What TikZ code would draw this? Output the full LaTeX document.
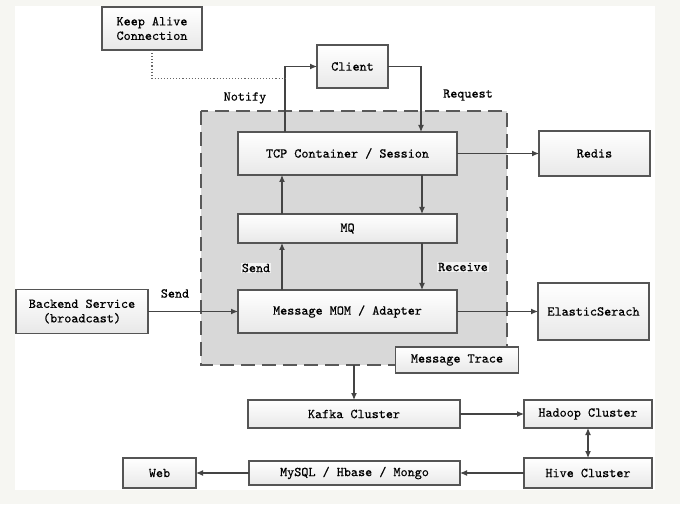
\documentclass[tikz,border=0pt]{standalone}
\usepackage{fontspec}
\setmonofont{lmmono10-regular.otf}[FakeBold=0.5]
\usepackage{tikz}
\usetikzlibrary{arrows.meta,calc,positioning,fit}
\definecolor{pagebg}{RGB}{246,246,242}
\definecolor{linegray}{RGB}{68,68,68}
\definecolor{boxline}{RGB}{85,85,85}
\definecolor{zonegray}{RGB}{216,216,216}
\newcommand{\boxfont}{\ttfamily\fontsize{13.5}{14.5}\selectfont}
\tikzstyle{bx}=[rectangle,draw=boxline,line width=1.2pt,outer sep=0pt,top color=white,bottom color=black!9,align=center,font=\boxfont,minimum height=43pt]
\tikzstyle{lnk}=[-{Latex[length=7pt,width=6pt]},line width=1.1pt,draw=linegray]
\tikzstyle{lbl}=[font=\boxfont,inner sep=1pt]
\tikzset{
	zone/.style={fill=zonegray,draw=black!65,line width=1.6pt,dash pattern=on 14pt off 7pt},
	keepline/.style={dotted,line width=1.1pt,draw=black!60}
}
\pgfdeclarelayer{back}
\pgfsetlayers{back,main}

\begin{document}
\begin{tikzpicture}[x=1pt,y=1pt]
    \useasboundingbox (0,0) rectangle (680,504);
    \node (tcp) [bx,minimum width=219pt] at (347.5,350.5) {TCP Container / Session};
    \node (mq) [bx,minimum width=219pt,minimum height=29pt,below=39pt of tcp] {MQ};
    \node (mom) [bx,minimum width=219pt,below=47pt of mq] {Message MOM / Adapter};
    \node (client) [bx,minimum width=71pt,above=44pt of tcp,xshift=5pt] {Client};
    \node (keep) [bx,minimum width=100pt,left=115pt of client,yshift=38pt] {Keep Alive\\Connection};
    \node (redis) [bx,minimum width=111pt,minimum height=45pt,right=82pt of tcp] {Redis};
    \node (elastic) [bx,minimum width=111pt,minimum height=57pt,right=81pt of mom] {ElasticSerach};
    \node (backend) [bx,minimum width=132pt,minimum height=44pt,left=90pt of mom] {Backend Service\\(broadcast)};
    \node (trace) [bx,minimum width=123pt,minimum height=26pt,below=14pt of mom.south east] {Message Trace};

    % region round the session part
    \coordinate (z1) at ($(tcp.north west)+(-37,21)$);
    \coordinate (z2) at ($(mom.south east)+(50,-32)$);
    \coordinate (zc) at ($(z1)!0.5!(z2)$);
\begin{pgfonlayer}{back}
    \fill[pagebg] (0,0) rectangle (680,504);
    \fill[white] (15,14) rectangle (655,498);
    \draw[zone] (z1) rectangle (z2);
\end{pgfonlayer}

    \node (kafka) [bx,minimum width=212pt,minimum height=28pt,below=35pt of zc |- z2] {Kafka Cluster};
    \node (hadoop) [bx,minimum width=128pt,minimum height=28pt,right=64pt of kafka] {Hadoop Cluster};
    \node (hive) [bx,minimum width=128pt,minimum height=30pt,below=30pt of hadoop] {Hive Cluster};
    \node (mysql) [bx,minimum width=211pt,minimum height=24pt,left=64pt of hive] {MySQL / Hbase / Mongo};
    \node (web) [bx,minimum width=73pt,minimum height=30pt,left=53pt of mysql] {Web};

    % notify / request loop
    \coordinate (nfy) at ($(tcp.north west)+(47,0)$);
    \coordinate (rq) at ($(tcp.north east)+(-36,0)$);
    \coordinate (kj) at ($(client.west -| nfy)+(0,-12)$);
    \draw[lnk] (nfy) |- (client.west);
    \draw[lnk] (client.east) -| (rq);
    \draw[keepline] (keep.south) |- (kj);
    \node (lnotify) [lbl] at ($(tcp.north west)+(7,34)$) {Notify};
    \node (lrequest) [lbl] at ($(tcp.north east)+(11,37)$) {Request};

    \draw[lnk] ($(tcp.south east)+(-35,0)$) -- ($(mq.north east)+(-35,0)$);
    \draw[lnk] ($(mq.north west)+(44,0)$) -- ($(tcp.south west)+(44,0)$);
    \draw[lnk] ($(mq.south east)+(-35,0)$) -- ($(mom.north east)+(-35,0)$);
    \draw[lnk] ($(mom.north west)+(44,0)$) -- ($(mq.south west)+(44,0)$);
    \node (lsend) [lbl,fill=white!70!zonegray] at ($(mom.north west)+(18,22)$) {Send};
    \node (lreceive) [lbl,fill=white!70!zonegray] at ($(mom.north east)+(6,23)$) {Receive};

    \draw[lnk] (tcp.east) -- (redis.west);
    \draw[lnk] (backend.east) -- (mom.west);
    \node (lsendb) [lbl] at ($(backend.north east)+(27,-4)$) {Send};
    \draw[lnk] (mom.east) -- (elastic.west);

    \draw[lnk] (kafka.north |- z2) -- (kafka.north);
    \draw[lnk] (kafka.east) -- (hadoop.west);
    \draw[{Latex[length=7pt,width=6pt]}-{Latex[length=7pt,width=6pt]},line width=1.1pt,draw=linegray] (hadoop.south) -- (hive.north);
    \draw[lnk] (hive.west) -- (mysql.east);
    \draw[lnk] (mysql.west) -- (web.east);
  \end{tikzpicture}
\end{document}
